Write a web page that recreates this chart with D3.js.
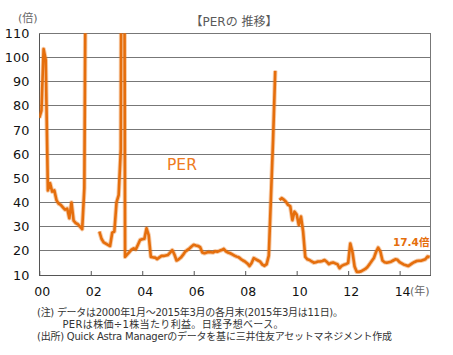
<!DOCTYPE html>
<html><head><meta charset="utf-8">
<script src="https://cdn.jsdelivr.net/npm/d3@7"></script>
<style>
html,body{margin:0;padding:0;background:#fff;}
svg{display:block;}
text{font-family:"DejaVu Sans","Noto Sans CJK JP",sans-serif;}
</style></head>
<body><svg id="c" width="453" height="355"></svg>
<script>
// Monthly PER (倍), Jan 2000 – Mar 2015; null = not plotted (negative/undefined earnings)
const startYear = 2000;
const per2000 = [75, 78, 103.5, 99, 45, 48, 44.5, 45, 41, 39.5, 39, 38];
const per2001 = [37, 37.5, 33.5, 40, 32.5, 31.5, 31, 30, 29, 46, 200, null];
const per2002 = [null, null, null, null, 28, 25, 23.5, 23, 22.5, 22, 27.5, 28];
const per2003 = [40, 43, 62, 400, 17.5, 18.5, 19.5, 20.5, 21, 20.6, 22.5, 24.5];
const per2004 = [24.8, 25, 29.3, 26.5, 17.5, 17.3, 17.2, 16.6, 17.3, 17.9, 17.9, 18.1];
const per2005 = [18.3, 19.3, 20.3, 18.5, 16, 16.5, 17.2, 18.3, 19.6, 20.3, 21, 21.8];
const per2006 = [22.5, 22.2, 22, 21.5, 19.3, 19, 19.3, 19.5, 19.4, 19.3, 19.8, 19.6];
const per2007 = [20, 20.3, 20.8, 19.8, 19.3, 19, 18.5, 18, 17.6, 17.3, 16.6, 16];
const per2008 = [15.5, 14.8, 13.7, 15, 17, 16.5, 16, 15.5, 14.3, 13.8, 14.5, 18];
const per2009 = [42, 66, 94.5, null, 41, 41.8, 41.2, 40.3, 39, 38.5, 32.7, 36.2];
const per2010 = [35, 30.7, 34.2, 28, 17.5, 16.5, 16.2, 15.6, 15.1, 15.3, 15.6, 15.6];
const per2011 = [15.8, 16.2, 15.5, 14.5, 15, 15.2, 14.8, 14.5, 12.8, 13.8, 14.2, 14.5];
const per2012 = [15, 23, 19.5, 13.5, 11.3, 11.3, 11.5, 12, 12.5, 13.3, 14.5, 15.8];
const per2013 = [17, 19.5, 21.3, 19.8, 16, 15.3, 15.1, 15.3, 15.5, 16, 16.5, 16.3];
const per2014 = [15.3, 14.8, 14.3, 14, 13.7, 14.3, 14.9, 15.4, 15.8, 15.9, 15.9, 16.2];
const per2015 = [16.5, 17.6, 17.4];
const perValues = [].concat(per2000, per2001, per2002, per2003, per2004, per2005, per2006,
  per2007, per2008, per2009, per2010, per2011, per2012, per2013, per2014, per2015);

const yTicks = [10, 20, 30, 40, 50, 60, 70, 80, 90, 100, 110];
const xTickYears = [2000, 2002, 2004, 2006, 2008, 2010, 2012, 2014];
const xTickLabels = ["00", "02", "04", "06", "08", "10", "12", "14"];
const titleText = "【PERの 推移】";
const unitText = "(倍)";
const yearUnitText = "(年)";
const seriesLabel = "PER";
const lastLabel = "17.4倍";
const noteLines = [
  "(注) データは2000年1月～2015年3月の各月末(2015年3月は11日)。",
  "PERは株価÷1株当たり利益。日経予想ベース。",
  "(出所) Quick Astra Managerのデータを基に三井住友アセットマネジメント作成"
];

const orange = "#E56E0C";
const svg = d3.select("#c");
const L = 39.3, R = 430.5, T = 33.3, B = 275;
const x = d3.scaleLinear().domain([2000, 2015.2]).range([L, R]);
const y = d3.scaleLinear().domain([10, 110]).range([B, T]);

// title & units
svg.append("text").attr("x", 234).attr("y", 26).attr("text-anchor", "middle")
  .attr("font-size", 12).attr("fill", "#5a5a5a").text(titleText);
svg.append("text").attr("x", 18).attr("y", 22)
  .attr("font-size", 11).attr("fill", "#666").text(unitText);

// gridlines
svg.append("g").selectAll("line").data(yTicks).join("line")
  .attr("x1", L).attr("x2", R).attr("y1", d => y(d)).attr("y2", d => y(d))
  .attr("stroke", "#777").attr("stroke-width", 1).attr("shape-rendering", "crispEdges");
// right border
svg.append("line").attr("x1", R).attr("x2", R).attr("y1", T).attr("y2", B)
  .attr("stroke", "#777").attr("shape-rendering", "crispEdges");

// y axis
const yAxis = d3.axisLeft(y).tickValues(yTicks).tickSize(0).tickPadding(10);
const gy = svg.append("g").attr("transform", `translate(${L},0)`).call(yAxis);
gy.select(".domain").attr("stroke", "#555").attr("shape-rendering", "crispEdges");
gy.selectAll("text").attr("font-size", 12.8).attr("fill", "#111")
  .attr("font-family", "DejaVu Sans");

// x axis (inward ticks)
const xAxis = d3.axisBottom(x).tickValues(xTickYears)
  .tickFormat((d, i) => xTickLabels[i]).tickSizeInner(-4).tickSizeOuter(0).tickPadding(12);
const gx = svg.append("g").attr("transform", `translate(0,${B})`).call(xAxis);
gx.select(".domain").attr("stroke", "#555").attr("shape-rendering", "crispEdges");
gx.selectAll(".tick line").attr("stroke", "#555");
gx.selectAll("text").attr("font-size", 12.5).attr("fill", "#111").attr("dx", 2.5)
  .attr("font-family", "DejaVu Sans");

svg.append("text").attr("x", 410).attr("y", 295).attr("font-size", 11)
  .attr("fill", "#666").text(yearUnitText);

// clip
svg.append("clipPath").attr("id", "clip").append("rect")
  .attr("x", L).attr("y", T).attr("width", R - L).attr("height", B - T);

const line = d3.line()
  .defined(d => d != null)
  .x((d, i) => x(startYear + i / 12))
  .y(d => y(d));

svg.append("path").datum(perValues)
  .attr("clip-path", "url(#clip)")
  .attr("fill", "none").attr("stroke", orange).attr("stroke-opacity", 0.35)
  .attr("stroke-width", 4.5).attr("stroke-linejoin", "round").attr("d", line);
svg.append("path").datum(perValues)
  .attr("clip-path", "url(#clip)")
  .attr("fill", "none").attr("stroke", orange)
  .attr("stroke-width", 2.6).attr("stroke-linejoin", "round").attr("d", line);

// labels
svg.append("text").attr("x", 167).attr("y", 170).attr("font-size", 15.5)
  .attr("fill", "#EE7B22").text(seriesLabel);
svg.append("text").attr("x", 393).attr("y", 246).attr("font-size", 10.5)
  .attr("font-weight", "bold").attr("fill", orange).text(lastLabel);

// notes
const noteX = [37, 62.5, 37];
const noteY = [315.5, 327.5, 339.5];
const noteW = [306, 221, 355];
svg.append("g").selectAll("text").data(noteLines).join("text")
  .attr("x", (d, i) => noteX[i]).attr("y", (d, i) => noteY[i])
  .attr("textLength", (d, i) => noteW[i]).attr("lengthAdjust", "spacing")
  .attr("font-size", 10).attr("fill", "#333").text(d => d);
</script></body></html>
